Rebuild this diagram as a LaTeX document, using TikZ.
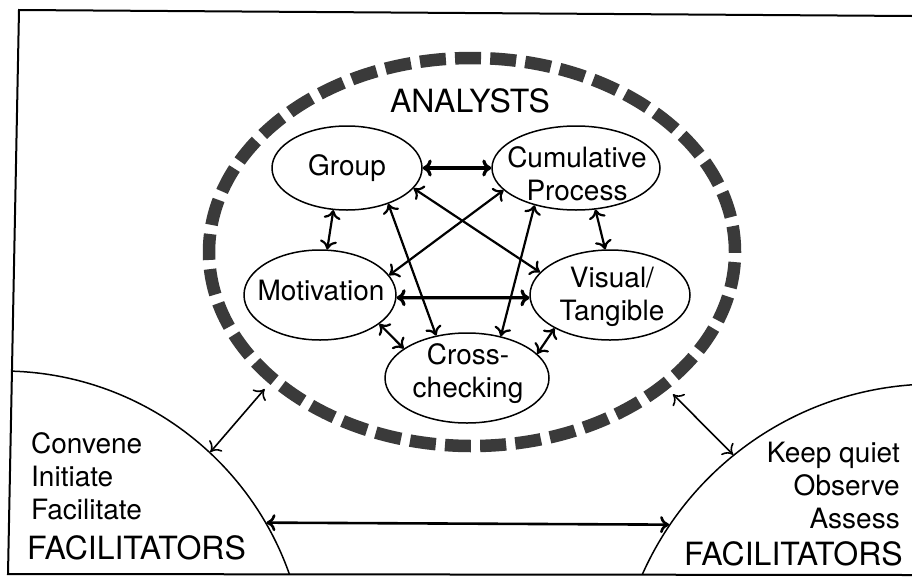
\documentclass[tikz,border=0pt]{standalone}
\usepackage{fontspec}
\setmainfont{TeX Gyre Heros}
\usetikzlibrary{shapes.geometric,arrows.meta}
\definecolor{ringgray}{HTML}{3A3A3A}
\begin{document}
\begin{tikzpicture}[x=1pt,y=-1pt,
  bub/.style={ellipse, draw, line width=1.5pt, inner sep=0pt},
  txt/.style={inner sep=0pt, font=\fontsize{28}{33}\selectfont, align=center},
  bigtxt/.style={inner sep=0pt, font=\fontsize{32}{36}\selectfont},
  tipstyle/.style={>={Computer Modern Rightarrow[length=9pt,width=17pt]}},
  arr/.style={<->, tipstyle, line width=2.2pt},
  arrthick/.style={<->, tipstyle, line width=3.2pt},
  arrthin/.style={<->, tipstyle, line width=1.6pt}
]
\useasboundingbox (0,0) rectangle (912,576);
\fill[white] (0,0) rectangle (912,576);

% frame
\draw[line width=2pt] (912,16) -- (19,10) -- (8,574) -- (912,575);

% facilitator arcs
\begin{scope}
  \clip (19,10) -- (912,16) -- (912,575) -- (8,574) -- cycle;
  \node[circle, draw, line width=1.5pt, minimum size=608pt, inner sep=0pt] (lfac) at (2.5,675) {};
  \node[circle, draw, line width=1.5pt, minimum size=640pt, inner sep=0pt] (rfac) at (935,704) {};
\end{scope}

% dashed analysts ring
\node[ellipse, draw=ringgray, line width=12.5pt, dash pattern=on 26pt off 9.2pt,
      minimum width=526pt, minimum height=388pt, inner sep=0pt] (ring) at (472,252) {};
\node[bigtxt, anchor=base] (analysts) at (470,112) {ANALYSTS};

% bubbles
\node[bub, minimum width=150pt, minimum height=84pt] (group) at (347,168) {};
\node[bub, minimum width=168pt, minimum height=84pt] (cum) at (576,168) {};
\node[bub, minimum width=152pt, minimum height=90pt] (mot) at (320,295) {};
\node[bub, minimum width=160pt, minimum height=90pt] (vis) at (610,295) {};
\node[bub, minimum width=164pt, minimum height=90pt] (cross) at (467,378) {};

\node[txt, anchor=base] (groupT) at (347,175) {Group};
\node[txt, anchor=base] (cumT) at (577,200) {Cumulative\\Process};
\node[txt, anchor=base] (motT) at (321,300) {Motivation};
\node[txt, anchor=base] (visT) at (612,320) {Visual/\\Tangible};
\node[txt, anchor=base] (crossT) at (468,397) {Cross-\\checking};

% facilitator texts
\node[txt, anchor=base west, align=left] (ltxt) at (31,519) {Convene\\Initiate\\Facilitate};
\node[bigtxt, anchor=base west] (lfacT) at (27,559) {FACILITATORS};
\node[txt, anchor=base east, align=right] (rtxt) at (900,528) {Keep quiet\\Observe\\Assess};
\node[bigtxt, anchor=base east] (rfacT) at (903,565) {FACILITATORS};

% connectors between bubbles
\draw[arrthick] (group.east) -- (cum.west);
\draw[arrthick] (mot.-2) -- (vis.182);
\draw[arr] (group.252) -- (mot.81.5);
\draw[arr] (group.-17) -- (vis.162);
\draw[arr] (group.-41) -- (cross.126.7);
\draw[arr] (cum.197) -- (mot.16.8);
\draw[arr] (cum.222) -- (cross.51);
\draw[arr] (cum.-65) -- (vis.96);
\draw[arr] (mot.-26.6) -- (cross.155.6);
\draw[arr] (vis.211.5) -- (cross.19.4);

% facilitator connectors
\draw[arrthin, shorten >=7pt] (lfac.47.3) -- (ring.213.4);
\draw[arrthin, shorten >=7pt] (rfac.129.4) -- (ring.325.8);
\draw[arrthick, line width=2.6pt] (lfac.30) -- (rfac.146.1);
\end{tikzpicture}
\end{document}
